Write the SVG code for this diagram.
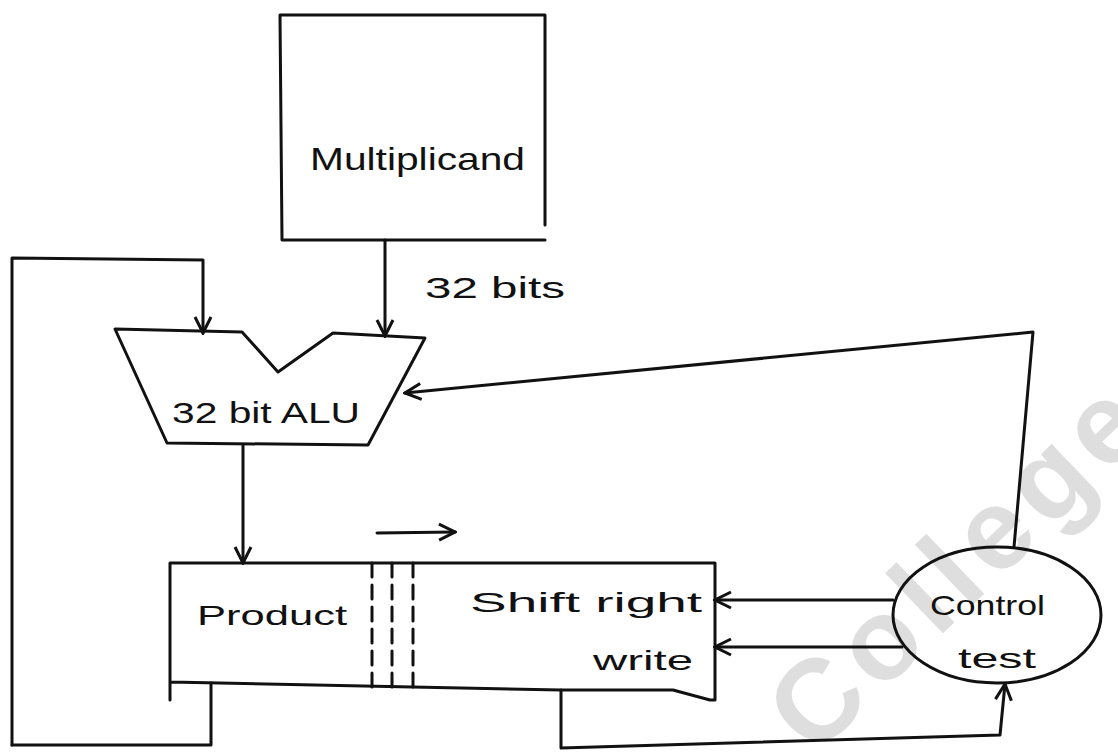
<svg xmlns="http://www.w3.org/2000/svg" width="1118" height="755" viewBox="0 0 1118 755">
<defs>
<style>
.s{fill:none;stroke:#111;stroke-width:3;stroke-linecap:round;stroke-linejoin:round}
.t{font-family:"Liberation Sans",Arial,sans-serif;fill:#111}
.wm{font-family:"Liberation Sans",Arial,sans-serif;font-weight:bold;fill:#dedede}
</style>
<marker id="ah" viewBox="0 0 20 20" refX="18" refY="10" markerWidth="20" markerHeight="20" markerUnits="userSpaceOnUse" orient="auto">
<polyline points="2,2 18,10 2,18" fill="none" stroke="#111" stroke-width="3"/>
</marker>
</defs>
<rect width="1118" height="755" fill="#fff"/>
<text class="wm" x="814" y="758" font-size="115" textLength="470" lengthAdjust="spacing" transform="rotate(-44 814 758)">College</text>

<g id="multiplicand">
<polyline class="s" points="545,225 545,15 280,15 282,240 545,240"/>
<text class="t" x="310" y="170" font-size="32" textLength="215" lengthAdjust="spacingAndGlyphs">Multiplicand</text>
</g>

<g id="alu">
<polygon class="s" points="115,329 242,332 278,372 333,333 425,338 368,445 167,443"/>
<text class="t" x="172" y="423" font-size="30" textLength="188" lengthAdjust="spacingAndGlyphs">32 bit ALU</text>
</g>

<g id="product">
<polyline class="s" points="170,700 170,563 715,563 715,700 710,700 673,690 561,690 170,682"/>
<line class="s" x1="372" y1="563" x2="372" y2="690" stroke-dasharray="14,8"/>
<line class="s" x1="392" y1="563" x2="392" y2="690" stroke-dasharray="14,8"/>
<line class="s" x1="413" y1="563" x2="413" y2="690" stroke-dasharray="14,8"/>
<text class="t" x="197" y="625" font-size="28" textLength="150" lengthAdjust="spacingAndGlyphs">Product</text>
<text class="t" x="470" y="612" font-size="28" textLength="232" lengthAdjust="spacingAndGlyphs">Shift right</text>
<text class="t" x="593" y="670" font-size="28" textLength="100" lengthAdjust="spacingAndGlyphs">write</text>
</g>

<g id="control">
<ellipse class="s" cx="997" cy="615" rx="104" ry="68"/>
<text class="t" x="930" y="615" font-size="28" textLength="115" lengthAdjust="spacingAndGlyphs">Control</text>
<text class="t" x="958" y="668" font-size="28" textLength="78" lengthAdjust="spacingAndGlyphs">test</text>
</g>

<g id="connectors">
<line class="s" x1="385" y1="240" x2="385" y2="336" marker-end="url(#ah)"/>
<text class="t" x="425" y="298" font-size="30" textLength="140" lengthAdjust="spacingAndGlyphs">32 bits</text>
<polyline class="s" points="12,745 12,258 203,260 203,333" marker-end="url(#ah)"/>
<polyline class="s" points="12,745 211,745 211,683"/>
<line class="s" x1="243" y1="445" x2="243" y2="563" marker-end="url(#ah)"/>
<polyline class="s" points="1014,547 1033,332 405,393" marker-end="url(#ah)"/>
<line class="s" x1="893" y1="600" x2="715" y2="600" marker-end="url(#ah)"/>
<line class="s" x1="902" y1="647" x2="715" y2="647" marker-end="url(#ah)"/>
<polyline class="s" points="561,690 561,748 1000,735 1005,684" marker-end="url(#ah)"/>
<polyline class="s" points="377,533 455,532" marker-end="url(#ah)"/>
</g>
</svg>
